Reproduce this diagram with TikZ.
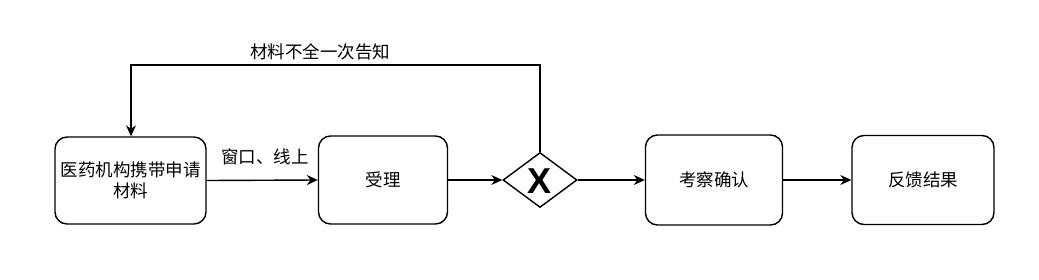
\documentclass[tikz,border=0pt]{standalone}
\usepackage{fontspec}
\setmainfont{Noto Sans CJK SC}
\newfontfamily\xfont{Liberation Sans}
\usetikzlibrary{shapes.geometric,arrows.meta}
\begin{document}
\begin{tikzpicture}[x=1pt,y=-1pt,
  stepbox/.style={draw,line width=1.4pt,rounded corners=12pt,fill=white,inner sep=0pt,align=center,font=\fontsize{17.5}{21}\selectfont},
  gateway/.style={draw,diamond,line width=1.4pt,fill=white,inner sep=0pt,minimum width=74pt,minimum height=55pt,aspect=1.35},
  flow/.style={line width=1.4pt,-{Stealth[length=11pt,width=10pt]}},
  lbl/.style={font=\fontsize{17.5}{21}\selectfont,inner sep=0pt}]
\useasboundingbox[fill=white] (0,0) rectangle (1039,279);
\node[stepbox,minimum width=151pt,minimum height=87pt] (b1) at (130.5,180.5) {医药机构携带申请\\材料};
\node[stepbox,minimum width=129pt,minimum height=88pt] (b2) at (383,180) {受理};
\node[gateway] (gw) at (540,180) {};
\node[font=\xfont\bfseries\fontsize{36}{36}\selectfont,inner sep=0pt] (gwx) at (540,181) {X};
\node[stepbox,minimum width=137pt,minimum height=90pt] (b3) at (714,180) {考察确认};
\node[stepbox,minimum width=142pt,minimum height=89pt] (b4) at (923,180) {反馈结果};
\coordinate (top) at (131,65);
\draw[flow] (b1.east) -- (b2.west);
\node[lbl] (l1) at (265,157) {窗口、线上};
\draw[flow] (b2.east) -- (gw.west);
\draw[flow] (gw.east) -- (b3.west);
\draw[flow] (b3.east) -- (b4.west);
\draw[flow] (gw.north) |- (top) -- (top |- b1.north);
\node[lbl] (l2) at (320,52) {材料不全一次告知};
\end{tikzpicture}
\end{document}
